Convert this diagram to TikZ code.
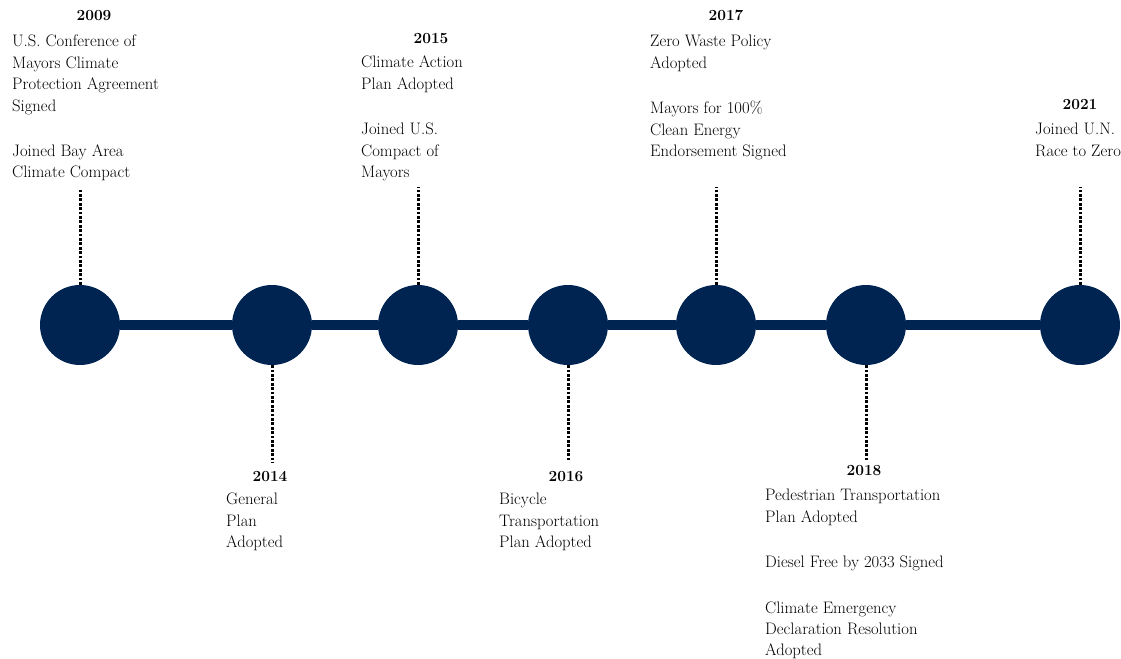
\documentclass[tikz,border=0pt]{standalone}
\usepackage{fontspec}
\definecolor{navy}{RGB}{0,36,82}
\tikzset{
  event/.style={circle,fill=navy,minimum size=80bp,inner sep=0pt},
  mainline/.style={line width=10bp,navy},
  stem/.style={line width=3bp,dash pattern=on 2.8bp off 1.6bp},
  yearlbl/.style={font=\fontsize{15.5}{21.5}\selectfont\bfseries,inner sep=0pt,anchor=base},
  txt/.style={font=\fontsize{16.7}{21.5}\selectfont,align=left,inner sep=0pt,anchor=north west},
}

\begin{document}
\begin{tikzpicture}[x=1bp,y=-1bp]
\useasboundingbox (0,0) rectangle (1121,659);

% events on the line
\node[event] (c2009) at (80,325) {};
\node[event] (c2014) at (272,325) {};
\node[event] (c2015) at (418,325) {};
\node[event] (c2016) at (568,325) {};
\node[event] (c2017) at (716,325) {};
\node[event] (c2018) at (866,325) {};
\node[event] (c2021) at (1080,325) {};
\draw[mainline] (c2009)--(c2014)--(c2015)--(c2016)--(c2017)--(c2018)--(c2021);

% stems
\coordinate (s2009) at (80,188);
\coordinate (s2014) at (272,463);
\coordinate (s2015) at (418,187);
\coordinate (s2016) at (568,462);
\coordinate (s2017) at (716,187);
\coordinate (s2018) at (866,461);
\coordinate (s2021) at (1080,187);
\draw[stem] (c2009)--(s2009);
\draw[stem] (c2014)--(s2014);
\draw[stem] (c2015)--(s2015);
\draw[stem] (c2016)--(s2016);
\draw[stem] (c2017)--(s2017);
\draw[stem] (c2018)--(s2018);
\draw[stem] (c2021)--(s2021);

% labels above
\node[yearlbl] (y2009) at (94,21) {2009};
\node[txt] (t2009) at (12,35) {U.S. Conference of\\Mayors Climate\\Protection Agreement\\Signed\\[24bp]Joined Bay Area\\Climate Compact};
\node[yearlbl] (y2015) at (431,44) {2015};
\node[txt] (t2015) at (361,56) {Climate Action\\Plan Adopted\\[24bp]Joined U.S.\\Compact of\\Mayors};
\node[yearlbl] (y2017) at (726,21) {2017};
\node[txt] (t2017) at (650,35) {Zero Waste Policy\\Adopted\\[24bp]Mayors for 100\%\\Clean Energy\\Endorsement Signed};
\node[yearlbl] (y2021) at (1080,110) {2021};
\node[txt] (t2021) at (1035,123) {Joined U.N.\\Race to Zero};

% labels below
\node[yearlbl] (y2014) at (270,481) {2014};
\node[txt] (t2014) at (226,493) {General\\Plan\\Adopted};
\node[yearlbl] (y2016) at (566,481) {2016};
\node[txt] (t2016) at (499,493) {Bicycle\\Transportation\\Plan Adopted};
\node[yearlbl] (y2018) at (864,475) {2018};
\node[txt] (t2018) at (765,489) {Pedestrian Transportation\\Plan Adopted\\[24bp]Diesel Free by 2033 Signed\\[24bp]Climate Emergency\\Declaration Resolution\\Adopted};
\end{tikzpicture}
\end{document}
